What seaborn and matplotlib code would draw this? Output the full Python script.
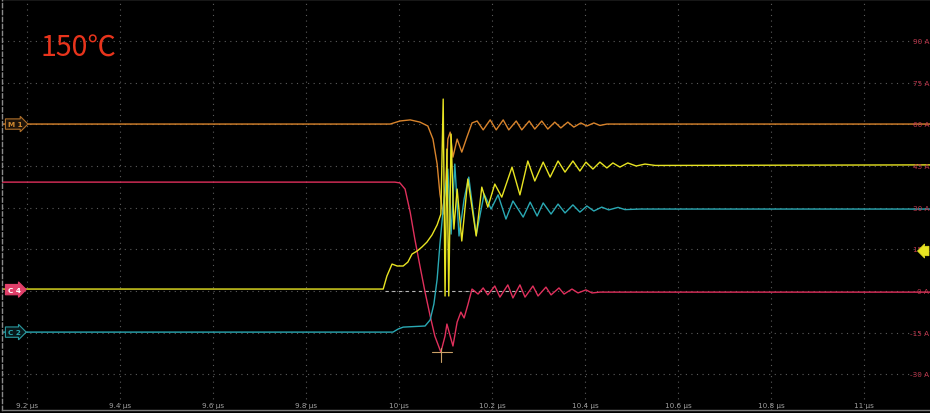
import matplotlib
matplotlib.use("Agg")
import matplotlib.pyplot as plt
import seaborn as sns
import pandas as pd

# ---------------- data (time in µs, value on the A scale) ----------------
m1_t = [9.142, 9.981, 10.002, 10.024, 10.045, 10.062, 10.073, 10.082, 10.088, 10.095,
        10.101, 10.105, 10.110, 10.116, 10.125, 10.135, 10.146, 10.157, 10.168, 10.181,
        10.196, 10.209, 10.224, 10.236, 10.252, 10.264, 10.280, 10.292, 10.307, 10.320,
        10.335, 10.348, 10.363, 10.376, 10.391, 10.404, 10.419, 10.432, 10.447, 11.142]
m1_v = [60.1, 60.1, 61.2, 61.6, 60.8, 59.4, 54.7, 45.7, 34.9, 27.7,
        40.3, 54.7, 57.2, 48.2, 54.7, 50.0, 55.4, 60.5, 61.2, 58.0,
        61.6, 58.0, 61.6, 58.0, 61.2, 58.0, 61.2, 58.3, 61.2, 58.3,
        60.8, 58.7, 60.8, 59.0, 60.5, 59.4, 60.5, 59.6, 60.1, 60.1]

c4_t = [9.142, 9.991, 10.002, 10.013, 10.024, 10.034, 10.045, 10.056, 10.067, 10.077,
        10.090, 10.099, 10.103, 10.110, 10.116, 10.125, 10.133, 10.140, 10.148, 10.157,
        10.170, 10.181, 10.191, 10.206, 10.217, 10.234, 10.245, 10.260, 10.271, 10.288,
        10.299, 10.316, 10.327, 10.344, 10.355, 10.372, 10.385, 10.402, 10.415, 10.432, 11.142]
c4_v = [39.2, 39.2, 38.9, 36.7, 28.4, 18.7, 9.0, -0.4, -9.0, -16.2,
        -22.0, -16.2, -11.9, -16.2, -19.8, -11.2, -7.6, -9.7, -5.0, 0.7,
        -1.1, 1.1, -1.4, 1.8, -2.2, 2.2, -2.5, 2.2, -2.2, 1.8,
        -1.8, 1.4, -1.4, 1.1, -1.1, 0.7, -0.7, 0.4, -0.7, -0.4, -0.4]

y_t = [9.142, 9.966, 9.974, 9.985, 9.996, 10.009, 10.019, 10.028, 10.039, 10.049,
       10.060, 10.071, 10.082, 10.090, 10.095, 10.099, 10.103, 10.107, 10.112, 10.118,
       10.125, 10.135, 10.148, 10.166, 10.178, 10.191, 10.206, 10.221, 10.243, 10.260,
       10.277, 10.292, 10.310, 10.325, 10.342, 10.357, 10.374, 10.389, 10.402, 10.417,
       10.432, 10.447, 10.460, 10.475, 10.492, 10.510, 10.529, 10.551, 11.142]
y_v = [0.7, 0.7, 5.4, 9.7, 9.0, 9.0, 10.4, 13.3, 14.4, 15.8,
       17.6, 20.2, 23.8, 27.7, 69.1, -1.8, 51.1, -1.8, 56.5, 22.3,
       36.7, 18.0, 40.3, 19.8, 37.4, 30.2, 38.5, 33.8, 44.6, 34.6,
       46.8, 39.6, 46.4, 41.0, 46.8, 42.8, 46.8, 43.2, 46.4, 43.9,
       46.4, 44.3, 46.1, 44.6, 46.1, 45.0, 45.7, 45.2, 45.4]

c2_t = [9.142, 9.987, 9.998, 10.009, 10.056, 10.067, 10.075, 10.082, 10.088, 10.097,
        10.105, 10.112, 10.120, 10.129, 10.140, 10.150, 10.166, 10.183, 10.198, 10.213,
        10.230, 10.245, 10.267, 10.282, 10.297, 10.310, 10.327, 10.342, 10.357, 10.374,
        10.389, 10.404, 10.419, 10.436, 10.451, 10.471, 10.486, 10.518, 11.142]
c2_v = [-14.8, -14.8, -13.7, -13.0, -12.6, -10.4, -4.7, 4.3, 16.9, 33.1,
        43.9, 20.5, 45.7, 19.8, 33.1, 41.0, 20.2, 34.9, 29.5, 34.6,
        25.9, 32.4, 26.6, 32.0, 27.0, 31.7, 27.7, 31.3, 28.1, 31.0,
        28.4, 30.6, 28.8, 30.2, 29.2, 30.1, 29.3, 29.5, 29.5]

x_ticks = [9.2, 9.4, 9.6, 9.8, 10.0, 10.2, 10.4, 10.6, 10.8, 11.0]
x_labels = ["9.2 µs", "9.4 µs", "9.6 µs", "9.8 µs", "10 µs",
            "10.2 µs", "10.4 µs", "10.6 µs", "10.8 µs", "11 µs"]
y_ticks = [-30, -15, 0, 15, 30, 45, 60, 75, 90]
y_labels = ["-30 A", "-15 A", "0 A", "15 A", "30 A", "45 A", "60 A", "75 A", "90 A"]

title = "150℃"

# ---------------- style ----------------
sns.set_theme(style="dark", rc={"axes.facecolor": "black", "figure.facecolor": "black"})
plt.rcParams["font.family"] = ["DejaVu Sans", "Noto Sans CJK SC"]

fig = plt.figure(figsize=(9.30, 4.14), dpi=100)
ax = fig.add_axes([2 / 930, 3 / 414, 928 / 930, 411 / 414])
ax.set_facecolor("black")

ORANGE = "#d9842c"
RED = "#e0305c"
YELLOW = "#e8e422"
CYAN = "#2aa9b4"

traces = [
    (pd.DataFrame({"t": m1_t, "v": m1_v}), ORANGE),
    (pd.DataFrame({"t": c4_t, "v": c4_v}), RED),
    (pd.DataFrame({"t": c2_t, "v": c2_v}), CYAN),
    (pd.DataFrame({"t": y_t, "v": y_v}), YELLOW),
]
for df, col in traces:
    sns.lineplot(data=df, x="t", y="v", ax=ax, color=col, lw=1.0,
                 estimator=None, sort=False)

xmin = 9.1462
xmax = 11.1419
ax.set_xlim(xmin, xmax)
ax.set_ylim(-42.84, 105.12)

ax.set_xticks(x_ticks)
ax.set_yticks(y_ticks)
ax.set_xticklabels([])
ax.set_yticklabels([])
ax.tick_params(length=0)
ax.set_xlabel("")
ax.set_ylabel("")
ax.grid(True, color="#5c5c5c", lw=0.8, ls=(0, (1, 4)))

for s in ["top", "bottom"]:
    ax.spines[s].set_visible(True)
    ax.spines[s].set_color("#7a7a7a")
    ax.spines[s].set_linewidth(1.0)
ax.spines["left"].set_visible(True)
ax.spines["left"].set_color("#8a8a8a")
ax.spines["left"].set_linestyle((0, (3, 2)))
ax.spines["left"].set_linewidth(1.0)
ax.spines["right"].set_visible(False)

# zero-level dashed reference
ax.plot([9.970, 10.262], [0, 0], color="#b8b8b8", lw=0.8, ls=(0, (3, 3)), zorder=1)

# cursor cross at trough
ax.plot([10.071, 10.114], [-22.0, -22.0], color="#c9a067", lw=0.8)
ax.plot([10.090, 10.090], [-20.5, -25.5], color="#c9a067", lw=0.8)

# bottom time labels
for xt, lab in zip(x_ticks, x_labels):
    ax.text(xt, -41.2, lab, color="#a0a0a0", fontsize=5.2, ha="center", va="center")

# right A labels
for yt, lab in zip(y_ticks, y_labels):
    ax.text(0.999, yt, lab, color="#c0384e", fontsize=5.2, ha="right", va="center",
            transform=ax.get_yaxis_transform())

# channel tags on the left
ax.text(0.006, 60.1, "M 1", color="#d08a30", fontsize=5.2, ha="left", va="center",
        transform=ax.get_yaxis_transform(), fontweight="bold",
        bbox=dict(boxstyle="rarrow,pad=0.3", fc="#1e140a", ec="#b0702a", lw=0.8))
ax.text(0.006, 0.5, "C 4", color="white", fontsize=5.2, ha="left", va="center",
        transform=ax.get_yaxis_transform(), fontweight="bold",
        bbox=dict(boxstyle="rarrow,pad=0.3", fc="#e0406a", ec="#e0406a", lw=0.8))
ax.text(0.006, -14.8, "C 2", color="#2aa8b0", fontsize=5.2, ha="left", va="center",
        transform=ax.get_yaxis_transform(), fontweight="bold",
        bbox=dict(boxstyle="rarrow,pad=0.3", fc="#08181a", ec="#2a9aa0", lw=0.8))

# yellow trigger arrow on the right
ax.text(0.997, 14.4, "  ", color=YELLOW, fontsize=5, ha="right", va="center",
        transform=ax.get_yaxis_transform(), zorder=6,
        bbox=dict(boxstyle="larrow,pad=0.25", fc=YELLOW, ec=YELLOW, lw=0.5))

fig.text(40 / 930, 1 - 49 / 414, title, color="#e8341c", fontsize=20.5,
         ha="left", va="center", family=["Noto Sans CJK SC", "DejaVu Sans"])

fig.savefig("out.png", dpi=100, facecolor="black")
